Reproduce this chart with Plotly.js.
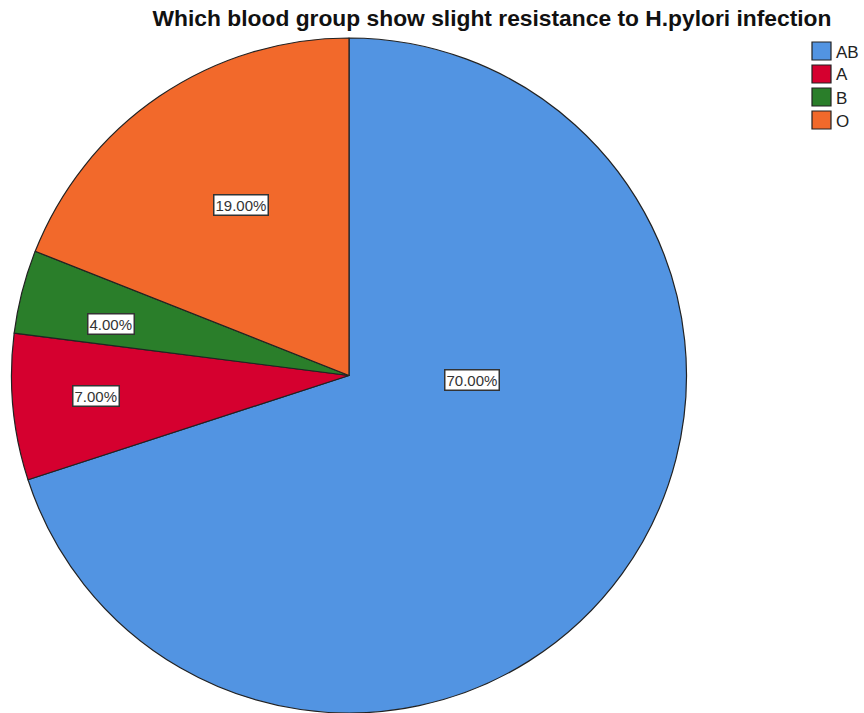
<!DOCTYPE html>
<html>
<head>
<meta charset="utf-8">
<script src="https://cdn.plot.ly/plotly-3.0.1.min.js"></script>
<style>html,body{margin:0;padding:0;background:#fff;}#chart{width:864px;height:713px;}</style>
</head>
<body>
<div id="chart"></div>
<script>
const categories = ["AB", "A", "B", "O"];
const percentages = [70, 7, 4, 19];
const sliceColors = ["#5294E2", "#D5002F", "#2A7E2A", "#F2692B"];
const labelTexts = ["70.00%", "7.00%", "4.00%", "19.00%"];
// label box centres in pixels (x, y from top)
const labelPosPx = [[472, 380], [96, 396], [111, 324], [241, 205]];

const W = 864, H = 713;
const cx = 349, cy = 376, R = 338;

const trace = {
  type: "pie",
  labels: categories,
  values: percentages,
  sort: false,
  direction: "clockwise",
  rotation: 0,
  marker: { colors: sliceColors, line: { color: "#222", width: 1.2 } },
  textinfo: "none",
  hoverinfo: "label+percent",
  showlegend: false,
  domain: { x: [(cx - R) / W, (cx + R) / W], y: [1 - (cy + R) / H, 1 - (cy - R) / H] }
};

const annotations = [];
const shapes = [];
labelTexts.forEach((t, i) => {
  annotations.push({
    xref: "paper", yref: "paper",
    x: labelPosPx[i][0] / W, y: 1 - labelPosPx[i][1] / H,
    text: t, showarrow: false,
    font: { family: "Liberation Sans, Arial, sans-serif", size: 15, color: "#333" },
    bgcolor: "#fff", bordercolor: "#333", borderwidth: 1.5, borderpad: 1,
    xanchor: "center", yanchor: "middle"
  });
});
// legend
categories.forEach((c, i) => {
  const top = 42 + i * 23;
  shapes.push({
    type: "rect", xref: "paper", yref: "paper",
    x0: 812 / W, x1: 831 / W, y0: 1 - (top + 18) / H, y1: 1 - top / H,
    fillcolor: sliceColors[i], line: { color: "#222", width: 1.2 }
  });
  annotations.push({
    xref: "paper", yref: "paper",
    x: 834 / W, y: 1 - (top + 10) / H,
    text: c, showarrow: false, xanchor: "left", yanchor: "middle",
    font: { family: "Liberation Sans, Arial, sans-serif", size: 17, color: "#222" }
  });
});

const layout = {
  width: W, height: H,
  margin: { l: 0, r: 0, t: 0, b: 0 },
  paper_bgcolor: "#fff",
  title: {
    text: "<b>Which blood group show slight resistance to H.pylori infection</b>",
    font: { family: "Liberation Sans, Arial, sans-serif", size: 22.8, color: "#111" },
    x: 492 / W, xanchor: "center", y: 1 - 18 / H, yanchor: "middle", xref: "paper", yref: "paper"
  },
  annotations: annotations,
  shapes: shapes,
  showlegend: false
};

Plotly.newPlot("chart", [trace], layout, { displayModeBar: false });
</script>
</body>
</html>
